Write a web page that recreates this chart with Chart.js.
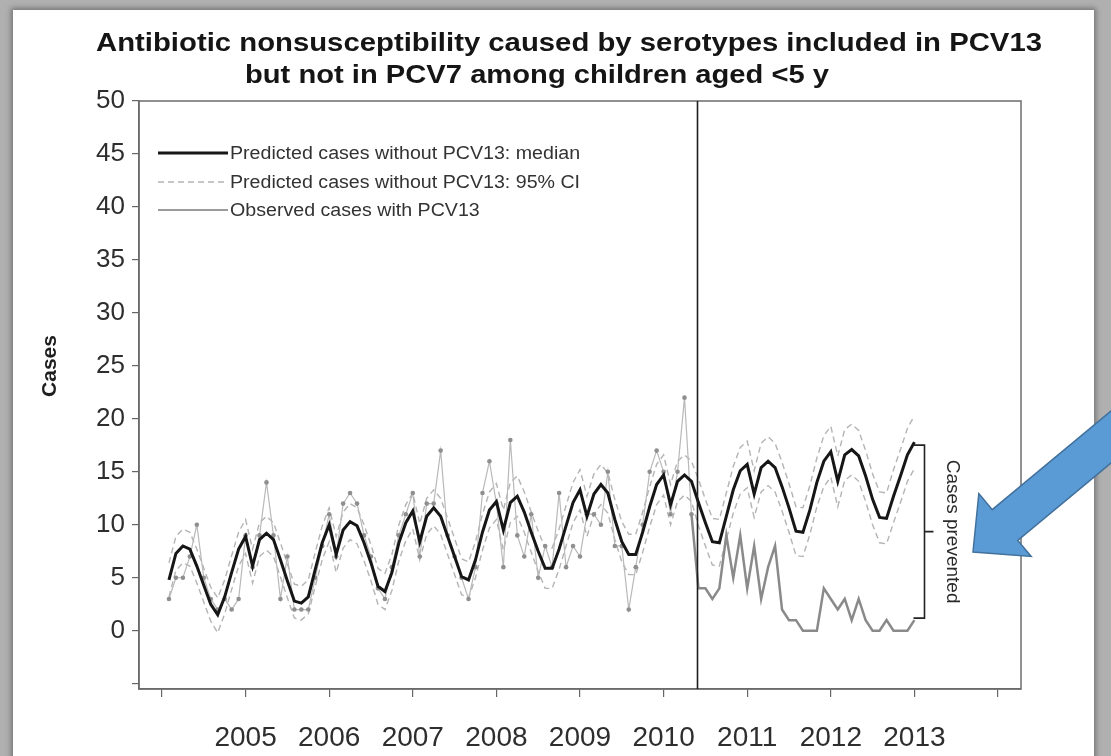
<!DOCTYPE html>
<html>
<head>
<title>Antibiotic nonsusceptibility - PCV13</title>
<script src="https://cdn.jsdelivr.net/npm/chart.js"></script>
<style>
  html, body { margin: 0; padding: 0; }
  body { width: 1111px; height: 756px; overflow: hidden; background: #b0b0b0; position: relative; }
  .sheet { position: absolute; left: 13px; top: 10px; width: 1081px; height: 780px; background: #fff;
           box-shadow: 0 0 5px 2px rgba(70,70,70,0.55); }
  .wrap { position: absolute; left: 0; top: 0; width: 1111px; height: 756px; }
</style>
</head>
<body>
<div class="sheet"></div>
<div class="wrap"><canvas id="chart"></canvas></div>
<script>
// monthly series, Feb 2004 .. Jan 2013 (108 months)
var startYear = 2004;
var introYear = 2010.4;   // PCV13 introduction (vertical line)
var yearLabels = ['2005', '2006', '2007', '2008', '2009', '2010', '2011', '2012', '2013'];
var legendLabels = [
  'Predicted cases without PCV13: median',
  'Predicted cases without PCV13: 95% CI',
  'Observed cases with PCV13'
];

var median = [
  4.8, 7.3, 8.0, 7.7, 6.1, 4.3, 2.5, 1.5, 3.2, 5.5, 7.7, 8.9,
  6.1, 8.6, 9.2, 8.6, 6.7, 4.7, 2.8, 2.6, 3.2, 5.8, 8.3, 10.0,
  7.2, 9.5, 10.3, 9.9, 8.3, 6.4, 4.2, 3.7, 5.5, 8.3, 10.2, 11.3,
  8.4, 10.8, 11.6, 10.8, 8.9, 7.0, 5.1, 4.8, 6.7, 9.3, 11.4, 12.2,
  9.5, 12.1, 12.7, 11.2, 9.3, 7.5, 5.9, 5.9, 7.7, 9.9, 12.1, 13.3,
  10.8, 12.9, 13.8, 13.0, 10.5, 8.4, 7.2, 7.2, 9.3, 11.7, 13.8, 14.7,
  11.9, 14.1, 14.7, 14.1, 12.1, 10.2, 8.4, 8.3, 10.8, 13.3, 15.1, 15.7,
  12.9, 15.4, 16.0, 15.4, 13.6, 11.6, 9.4, 9.3, 11.4, 14.0, 16.0, 16.9,
  14.1, 16.6, 17.1, 16.5, 14.6, 12.4, 10.7, 10.6, 12.7, 14.6, 16.6, 17.8
];

var upperCI = [
  6.4, 8.9, 9.6, 9.3, 7.7, 5.9, 4.1, 3.1, 4.8, 7.1, 9.3, 10.5,
  7.7, 10.2, 10.8, 10.2, 8.3, 6.3, 4.4, 4.2, 4.8, 7.4, 9.9, 11.6,
  8.9, 11.2, 12.0, 11.6, 10.0, 8.1, 5.9, 5.4, 7.2, 10.0, 11.9, 13.0,
  10.1, 12.5, 13.3, 12.5, 10.6, 8.7, 6.8, 6.5, 8.4, 11.0, 13.1, 13.9,
  11.4, 14.0, 14.6, 13.1, 11.2, 9.4, 7.8, 7.8, 9.6, 11.8, 14.0, 15.2,
  12.7, 14.8, 15.7, 14.9, 12.4, 10.3, 9.1, 9.1, 11.2, 13.6, 15.7, 16.6,
  13.8, 16.0, 16.6, 16.0, 14.3, 12.4, 10.6, 10.5, 13.0, 15.5, 17.3, 17.9,
  15.1, 17.7, 18.3, 17.7, 15.9, 13.9, 11.7, 11.6, 13.7, 16.3, 18.4, 19.3,
  16.5, 19.0, 19.5, 18.9, 17.0, 14.8, 13.1, 13.0, 15.2, 17.1, 19.1, 20.3
];

var lowerCI = [
  3.2, 5.7, 6.4, 6.1, 4.5, 2.7, 0.9, -0.2, 1.6, 3.9, 6.1, 7.3,
  4.5, 7.0, 7.6, 7.0, 5.1, 3.1, 1.2, 1.0, 1.6, 4.2, 6.7, 8.4,
  5.5, 7.8, 8.6, 8.2, 6.6, 4.7, 2.5, 2.0, 3.8, 6.6, 8.5, 9.6,
  6.7, 9.1, 9.9, 9.1, 7.2, 5.3, 3.4, 3.1, 5.0, 7.6, 9.7, 10.5,
  7.6, 10.2, 10.8, 9.3, 7.4, 5.6, 4.0, 4.0, 5.8, 8.0, 10.2, 11.4,
  8.9, 11.0, 11.9, 11.1, 8.6, 6.5, 5.3, 5.3, 7.4, 9.8, 11.9, 12.8,
  10.0, 12.2, 12.8, 12.2, 9.9, 8.0, 6.2, 6.1, 8.6, 11.1, 12.9, 13.5,
  10.7, 13.1, 13.7, 13.1, 11.3, 9.3, 7.1, 7.0, 9.1, 11.7, 13.6, 14.5,
  11.7, 14.2, 14.7, 14.1, 12.2, 10.0, 8.3, 8.2, 10.2, 12.1, 14.1, 15.3
];

var observed = [
  3, 5, 5, 7, 10, 5, 3, 2, 3, 2, 3, 9,
  6, 9, 14, 9, 3, 7, 2, 2, 2, 5, 8, 11,
  7, 12, 13, 12, 9, 7, 4, 3, 6, 9, 11, 13,
  7, 12, 12, 17, 9, 7, 5, 3, 6, 13, 16, 12,
  6, 18, 9, 7, 11, 5, 8, 6, 13, 6, 8, 7,
  11, 11, 10, 15, 8, 8, 2, 6, 10, 15, 17, 15,
  11, 15, 22, 11, 4, 4, 3, 4, 9, 5, 9, 4,
  8, 3, 6, 8, 2, 1, 1, 0, 0, 0, 4, 3,
  2, 3, 1, 3, 1, 0, 0, 1, 0, 0, 0, 1
];

function toPoints(values) {
  return values.map(function(v, i) {
    return { x: startYear + (i + 1) / 12, y: v };
  });
}

var fontFamily = '"Liberation Sans", Arial, Helvetica, sans-serif';

// the scanned figure is slightly stretched sideways; mimic that for text
function stretchText(ctx, text, x, baseY, sx, align) {
  ctx.save();
  ctx.translate(x, baseY);
  ctx.scale(sx, 1);
  ctx.textAlign = align;
  ctx.fillText(text, 0, 0);
  ctx.restore();
}

var decorations = {
  id: 'decorations',
  afterDraw: function(chart) {
    var ctx = chart.ctx;
    var a = chart.chartArea;
    var xs = chart.scales.x, ys = chart.scales.y;
    ctx.save();

    // box around plot
    ctx.strokeStyle = '#6c6c6c';
    ctx.lineWidth = 1.5;
    ctx.strokeRect(a.left, a.top, a.right - a.left, a.bottom - a.top);

    // PCV13 introduction line
    var vx = Math.round(xs.getPixelForValue(introYear)) + 0.5;
    ctx.strokeStyle = '#1e1e1e';
    ctx.lineWidth = 1.6;
    ctx.beginPath();
    ctx.moveTo(vx, a.top);
    ctx.lineTo(vx, a.bottom);
    ctx.stroke();

    // title, fitted to the widths of the scan
    ctx.fillStyle = '#151515';
    ctx.font = 'bold 26px ' + fontFamily;
    ctx.textBaseline = 'alphabetic';
    var t1 = 'Antibiotic nonsusceptibility caused by serotypes included in PCV13';
    var t2 = 'but not in PCV7 among children aged <5 y';
    stretchText(ctx, t1, 569, 51, 946 / ctx.measureText(t1).width, 'center');
    stretchText(ctx, t2, 537, 83, 584 / ctx.measureText(t2).width, 'center');

    // y axis title
    ctx.save();
    ctx.translate(50, 366);
    ctx.rotate(-Math.PI / 2);
    ctx.font = 'bold 21px ' + fontFamily;
    ctx.textAlign = 'center';
    ctx.textBaseline = 'middle';
    ctx.fillStyle = '#1e1e1e';
    ctx.fillText('Cases', 0, 0);
    ctx.restore();

    // legend
    var rows = [153, 182, 210];
    var ds = chart.data.datasets;
    var styles = [ds[0], ds[2], ds[1]];
    ctx.font = '18px ' + fontFamily;
    ctx.textBaseline = 'middle';
    for (var i = 0; i < 3; i++) {
      var st = styles[i];
      ctx.save();
      ctx.strokeStyle = i === 2 ? '#7a7a7a' : st.borderColor;
      ctx.lineWidth = i === 0 ? 3 : (i === 2 ? 1.6 : 1.4);
      ctx.setLineDash(st.borderDash || []);
      ctx.beginPath();
      ctx.moveTo(158, rows[i]);
      ctx.lineTo(228, rows[i]);
      ctx.stroke();
      ctx.restore();
      ctx.fillStyle = '#333';
      stretchText(ctx, legendLabels[i], 230, rows[i] + 1, 1.09, 'left');
    }

    // "Cases prevented" bracket
    var last = median.length - 1;
    var lastX = xs.getPixelForValue(startYear + (last + 1) / 12);
    var bx = Math.round(lastX + 10) + 0.5;
    var top = ys.getPixelForValue(median[last]) + 3;
    var bot = ys.getPixelForValue(observed[last]) - 2;
    var mid = (top + bot) / 2;
    ctx.strokeStyle = '#222';
    ctx.lineWidth = 1.6;
    ctx.beginPath();
    ctx.moveTo(bx - 11, top);
    ctx.lineTo(bx, top);
    ctx.lineTo(bx, bot);
    ctx.lineTo(bx - 11, bot);
    ctx.moveTo(bx, mid);
    ctx.lineTo(bx + 9, mid);
    ctx.stroke();
    ctx.save();
    ctx.translate(bx + 28, mid);
    ctx.rotate(Math.PI / 2);
    ctx.font = '19px ' + fontFamily;
    ctx.textAlign = 'center';
    ctx.textBaseline = 'middle';
    ctx.fillStyle = '#2a2a2a';
    ctx.fillText('Cases prevented', 0, 0);
    ctx.restore();

    // blue call-out arrow
    var T = [973, 552], B = [1005, 525];
    var u = [0.768, -0.638], n = [0.638, 0.768];
    var hw = 41, sw = 20, len = 200;
    var E = [B[0] + u[0] * len, B[1] + u[1] * len];
    ctx.beginPath();
    ctx.moveTo(T[0], T[1]);
    ctx.lineTo(B[0] - n[0] * hw, B[1] - n[1] * hw);
    ctx.lineTo(B[0] - n[0] * sw, B[1] - n[1] * sw);
    ctx.lineTo(E[0] - n[0] * sw, E[1] - n[1] * sw);
    ctx.lineTo(E[0] + n[0] * sw, E[1] + n[1] * sw);
    ctx.lineTo(B[0] + n[0] * sw, B[1] + n[1] * sw);
    ctx.lineTo(B[0] + n[0] * hw, B[1] + n[1] * hw);
    ctx.closePath();
    ctx.fillStyle = '#5b9bd5';
    ctx.fill();
    ctx.strokeStyle = '#41719c';
    ctx.lineWidth = 1.5;
    ctx.stroke();

    ctx.restore();
  }
};

var ctx = document.getElementById('chart').getContext('2d');
var chart = new Chart(ctx, {
  type: 'line',
  data: {
    datasets: [
      {
        label: legendLabels[0],
        data: toPoints(median),
        borderColor: '#161616',
        borderWidth: 3,
        pointRadius: 0,
        tension: 0,
        order: 0
      },
      {
        label: legendLabels[2],
        data: toPoints(observed),
        borderColor: '#b9b9b9',
        borderWidth: 1.2,
        tension: 0,
        pointRadius: function(c) { return c.parsed && c.parsed.x < introYear ? 2.3 : 0; },
        pointBackgroundColor: '#8f8f8f',
        pointBorderColor: '#8f8f8f',
        pointBorderWidth: 0,
        segment: {
          borderColor: function(c) { return c.p1.parsed.x > introYear ? '#8a8a8a' : undefined; },
          borderWidth: function(c) { return c.p1.parsed.x > introYear ? 2.5 : undefined; }
        },
        order: 1
      },
      {
        label: legendLabels[1],
        data: toPoints(upperCI),
        borderColor: '#b4b4b4',
        borderWidth: 1.4,
        borderDash: [6, 4],
        pointRadius: 0,
        tension: 0,
        order: 2
      },
      {
        label: legendLabels[1] + ' (lower)',
        data: toPoints(lowerCI),
        borderColor: '#b4b4b4',
        borderWidth: 1.4,
        borderDash: [6, 4],
        pointRadius: 0,
        tension: 0,
        order: 2
      }
    ]
  },
  options: {
    responsive: true,
    maintainAspectRatio: false,
    animation: false,
    devicePixelRatio: 1,
    layout: { padding: { left: 0, right: 90, top: 101, bottom: 0 } },
    plugins: {
      legend: { display: false },
      tooltip: { enabled: false },
      title: { display: false }
    },
    scales: {
      x: {
        type: 'linear',
        min: 2003.725,
        max: 2014.275,
        afterFit: function(s) { s.height = 67; },
        grid: { drawOnChartArea: false, drawTicks: true, tickLength: 8, color: '#666', lineWidth: 1.2 },
        border: { display: true, color: '#666', width: 1.5 },
        ticks: {
          stepSize: 1,
          includeBounds: false,
          autoSkip: false,
          maxRotation: 0,
          padding: 24,
          color: '#2e2e2e',
          font: { family: fontFamily, size: 28 },
          callback: function(v) {
            var s = String(Math.round(v));
            return yearLabels.indexOf(s) >= 0 ? s : '';
          }
        }
      },
      y: {
        min: -5.5,
        max: 50,
        afterFit: function(s) { s.width = 139; },
        grid: { drawOnChartArea: false, drawTicks: true, tickLength: 7, color: '#666', lineWidth: 1.2 },
        border: { display: true, color: '#666', width: 1.5 },
        ticks: {
          stepSize: 5,
          includeBounds: false,
          padding: 7,
          color: '#2e2e2e',
          font: { family: fontFamily, size: 26 },
          callback: function(v) { return v < 0 ? '' : String(v); }
        }
      }
    }
  },
  plugins: [decorations]
});
</script>
</body>
</html>
